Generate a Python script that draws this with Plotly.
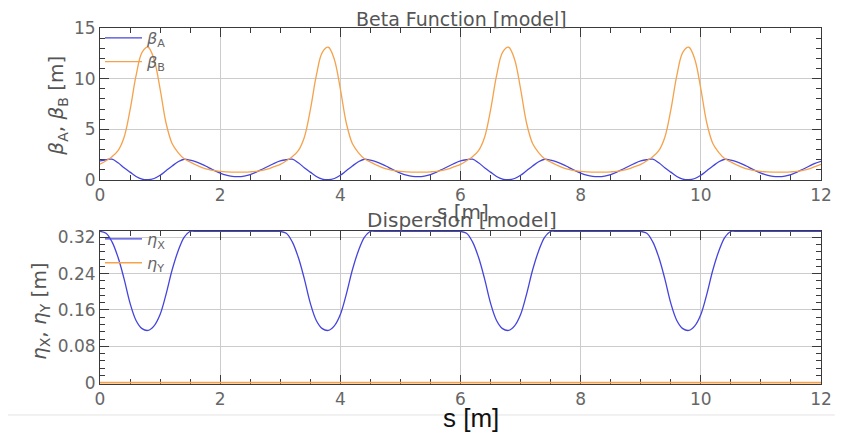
import numpy as np
import plotly.graph_objects as go

# ---- data ----
s = np.round(np.arange(0, 12.0001, 0.1), 2)

beta_a = [
    1.88, 2.00, 2.05, 1.70, 1.22, 0.78, 0.35, 0.09, 0.03, 0.15,
    0.47, 0.92, 1.38, 1.80, 2.05, 1.96, 1.80, 1.55, 1.25, 0.95,
    0.68, 0.48, 0.36, 0.33, 0.39, 0.53, 0.77, 1.06, 1.36, 1.65,
    1.88, 2.00, 2.05, 1.70, 1.22, 0.78, 0.35, 0.09, 0.03, 0.15,
    0.47, 0.92, 1.38, 1.80, 2.05, 1.96, 1.80, 1.55, 1.25, 0.95,
    0.68, 0.48, 0.36, 0.33, 0.39, 0.53, 0.77, 1.06, 1.36, 1.65,
    1.88, 2.00, 2.05, 1.70, 1.22, 0.78, 0.35, 0.09, 0.03, 0.15,
    0.47, 0.92, 1.38, 1.80, 2.05, 1.96, 1.80, 1.55, 1.25, 0.95,
    0.68, 0.48, 0.36, 0.33, 0.39, 0.53, 0.77, 1.06, 1.36, 1.65,
    1.88, 2.00, 2.05, 1.70, 1.22, 0.78, 0.35, 0.09, 0.03, 0.15,
    0.47, 0.92, 1.38, 1.80, 2.05, 1.96, 1.80, 1.55, 1.25, 0.95,
    0.68, 0.48, 0.36, 0.33, 0.39, 0.53, 0.77, 1.06, 1.36, 1.65,
    1.85,
]
beta_b = [
    1.55, 1.90, 2.30, 2.90, 4.20, 6.90, 10.30, 12.60, 13.10, 11.90,
    9.00, 5.60, 3.60, 2.70, 2.10, 1.78, 1.48, 1.22, 1.04, 0.92,
    0.85, 0.80, 0.78, 0.77, 0.78, 0.81, 0.86, 0.95, 1.09, 1.32,
    1.55, 1.90, 2.30, 2.90, 4.20, 6.90, 10.30, 12.60, 13.10, 11.90,
    9.00, 5.60, 3.60, 2.70, 2.10, 1.78, 1.48, 1.22, 1.04, 0.92,
    0.85, 0.80, 0.78, 0.77, 0.78, 0.81, 0.86, 0.95, 1.09, 1.32,
    1.55, 1.90, 2.30, 2.90, 4.20, 6.90, 10.30, 12.60, 13.10, 11.90,
    9.00, 5.60, 3.60, 2.70, 2.10, 1.78, 1.48, 1.22, 1.04, 0.92,
    0.85, 0.80, 0.78, 0.77, 0.78, 0.81, 0.86, 0.95, 1.09, 1.32,
    1.55, 1.90, 2.30, 2.90, 4.20, 6.90, 10.30, 12.60, 13.10, 11.90,
    9.00, 5.60, 3.60, 2.70, 2.10, 1.78, 1.48, 1.22, 1.04, 0.92,
    0.85, 0.80, 0.78, 0.77, 0.78, 0.81, 0.86, 0.95, 1.09, 1.32,
    1.55,
]
eta_x = [
    0.333, 0.329, 0.310, 0.276, 0.229, 0.175, 0.137, 0.119, 0.115, 0.125,
    0.150, 0.195, 0.248, 0.290, 0.320, 0.333, 0.333, 0.333, 0.333, 0.333,
    0.333, 0.333, 0.333, 0.333, 0.333, 0.333, 0.333, 0.333, 0.333, 0.333,
    0.333, 0.329, 0.310, 0.276, 0.229, 0.175, 0.137, 0.119, 0.115, 0.125,
    0.150, 0.195, 0.248, 0.290, 0.320, 0.333, 0.333, 0.333, 0.333, 0.333,
    0.333, 0.333, 0.333, 0.333, 0.333, 0.333, 0.333, 0.333, 0.333, 0.333,
    0.333, 0.329, 0.310, 0.276, 0.229, 0.175, 0.137, 0.119, 0.115, 0.125,
    0.150, 0.195, 0.248, 0.290, 0.320, 0.333, 0.333, 0.333, 0.333, 0.333,
    0.333, 0.333, 0.333, 0.333, 0.333, 0.333, 0.333, 0.333, 0.333, 0.333,
    0.333, 0.329, 0.310, 0.276, 0.229, 0.175, 0.137, 0.119, 0.115, 0.125,
    0.150, 0.195, 0.248, 0.290, 0.320, 0.333, 0.333, 0.333, 0.333, 0.333,
    0.333, 0.333, 0.333, 0.333, 0.333, 0.333, 0.333, 0.333, 0.333, 0.333,
    0.333,
]
eta_y = [0.0] * len(s)

x_ticks = [0, 2, 4, 6, 8, 10, 12]
beta_ticks = [0, 5, 10, 15]
eta_ticks = [0, 0.08, 0.16, 0.24, 0.32]
eta_tick_text = ["0", "0.08", "0.16", "0.24", "0.32"]

BLUE = "#4444dd"
ORANGE = "#f5a24c"
GRID = "#cccccc"
FRAME = "#3a3a3a"
TXT = "#666666"
FONT = "DejaVu Sans"

fig = go.Figure()
fig.add_trace(go.Scatter(x=s, y=beta_a, mode="lines", name="<i>β</i><sub>A</sub>",
                         line=dict(color=BLUE, width=1.3, shape="spline"),
                         xaxis="x", yaxis="y", legend="legend"))
fig.add_trace(go.Scatter(x=s, y=beta_b, mode="lines", name="<i>β</i><sub>B</sub>",
                         line=dict(color=ORANGE, width=1.3, shape="spline"),
                         xaxis="x", yaxis="y", legend="legend"))
fig.add_trace(go.Scatter(x=s, y=eta_x, mode="lines", name="<i>η</i><sub>X</sub>",
                         line=dict(color=BLUE, width=1.3, shape="spline"),
                         xaxis="x2", yaxis="y2", legend="legend2"))
fig.add_trace(go.Scatter(x=s, y=eta_y, mode="lines", name="<i>η</i><sub>Y</sub>",
                         line=dict(color=ORANGE, width=1.6),
                         xaxis="x2", yaxis="y2", legend="legend2"))

def xax(anchor):
    return dict(domain=[0, 1], anchor=anchor, range=[0, 12], tickvals=x_ticks,
                ticks="inside", ticklen=9, tickcolor=FRAME, mirror="allticks",
                showline=True, linecolor=FRAME, linewidth=1, layer="below traces",
                showgrid=True, gridcolor=GRID, gridwidth=1, zeroline=False,
                minor=dict(dtick=0.5, ticks="inside", ticklen=5, tickcolor=FRAME, showgrid=False),
                tickfont=dict(family=FONT, size=17, color=TXT))

def yax(anchor, domain, rng, tv, tt, mdt):
    return dict(domain=domain, anchor=anchor, range=rng, tickvals=tv, ticktext=tt,
                ticks="inside", ticklen=9, tickcolor=FRAME, mirror="allticks",
                showline=True, linecolor=FRAME, linewidth=1, layer="below traces",
                showgrid=True, gridcolor=GRID, gridwidth=1, zeroline=False,
                minor=dict(dtick=mdt, ticks="inside", ticklen=5, tickcolor=FRAME, showgrid=False),
                tickfont=dict(family=FONT, size=17, color=TXT))

fig.update_layout(
    width=846, height=436,
    margin=dict(l=92, r=33, t=20, b=60, autoexpand=False),
    paper_bgcolor="white", plot_bgcolor="white",
    xaxis=xax("y"),
    yaxis=yax("x", [0.573, 1.0], [0, 15], beta_ticks, [str(v) for v in beta_ticks], 1),
    xaxis2=xax("y2"),
    yaxis2=yax("x2", [0.0, 0.4298], [-0.003, 0.334], eta_ticks, eta_tick_text, 0.016),
    legend=dict(x=0.0, y=1.02, xanchor="left", yanchor="top", bgcolor="rgba(0,0,0,0)",
                font=dict(family=FONT, size=16, color=TXT), itemwidth=37,
                tracegroupgap=0),
    legend2=dict(x=0.0, y=0.455, xanchor="left", yanchor="top", bgcolor="rgba(0,0,0,0)",
                 font=dict(family=FONT, size=16, color=TXT), itemwidth=37,
                 tracegroupgap=0),
    showlegend=True,
)

ann = dict(xref="paper", yref="paper", showarrow=False, xanchor="center", yanchor="middle")
fig.add_annotation(text="Beta Function [model]", x=0.502, y=1.025,
                   font=dict(family=FONT, size=19, color="#555555"), **ann)
fig.add_annotation(text="s [m]", x=0.503, y=0.483,
                   font=dict(family=FONT, size=20, color="#555555"), **ann)
fig.add_annotation(text="Dispersion [model]", x=0.502, y=0.4607,
                   font=dict(family=FONT, size=20, color="#555555"), **ann)
fig.add_annotation(text="s [m]", x=0.5146, y=-0.0955,
                   font=dict(family="Liberation Sans", size=26, color="#111111"), **ann)
fig.add_annotation(text="<i>β</i><sub>A</sub>, <i>β</i><sub>B</sub> [m]", x=-0.0596, y=0.782,
                   textangle=-90, font=dict(family=FONT, size=20, color="#555555"), **ann)
fig.add_annotation(text="<i>η</i><sub>X</sub>, <i>η</i><sub>Y</sub> [m]", x=-0.0832, y=0.205,
                   textangle=-90, font=dict(family=FONT, size=20, color="#555555"), **ann)

fig.add_shape(type="line", xref="paper", yref="paper", x0=-0.13, x1=1.019,
              y0=-0.087, y1=-0.087, line=dict(color="#e3e3e3", width=1), layer="below")

fig.write_html("out.html")
